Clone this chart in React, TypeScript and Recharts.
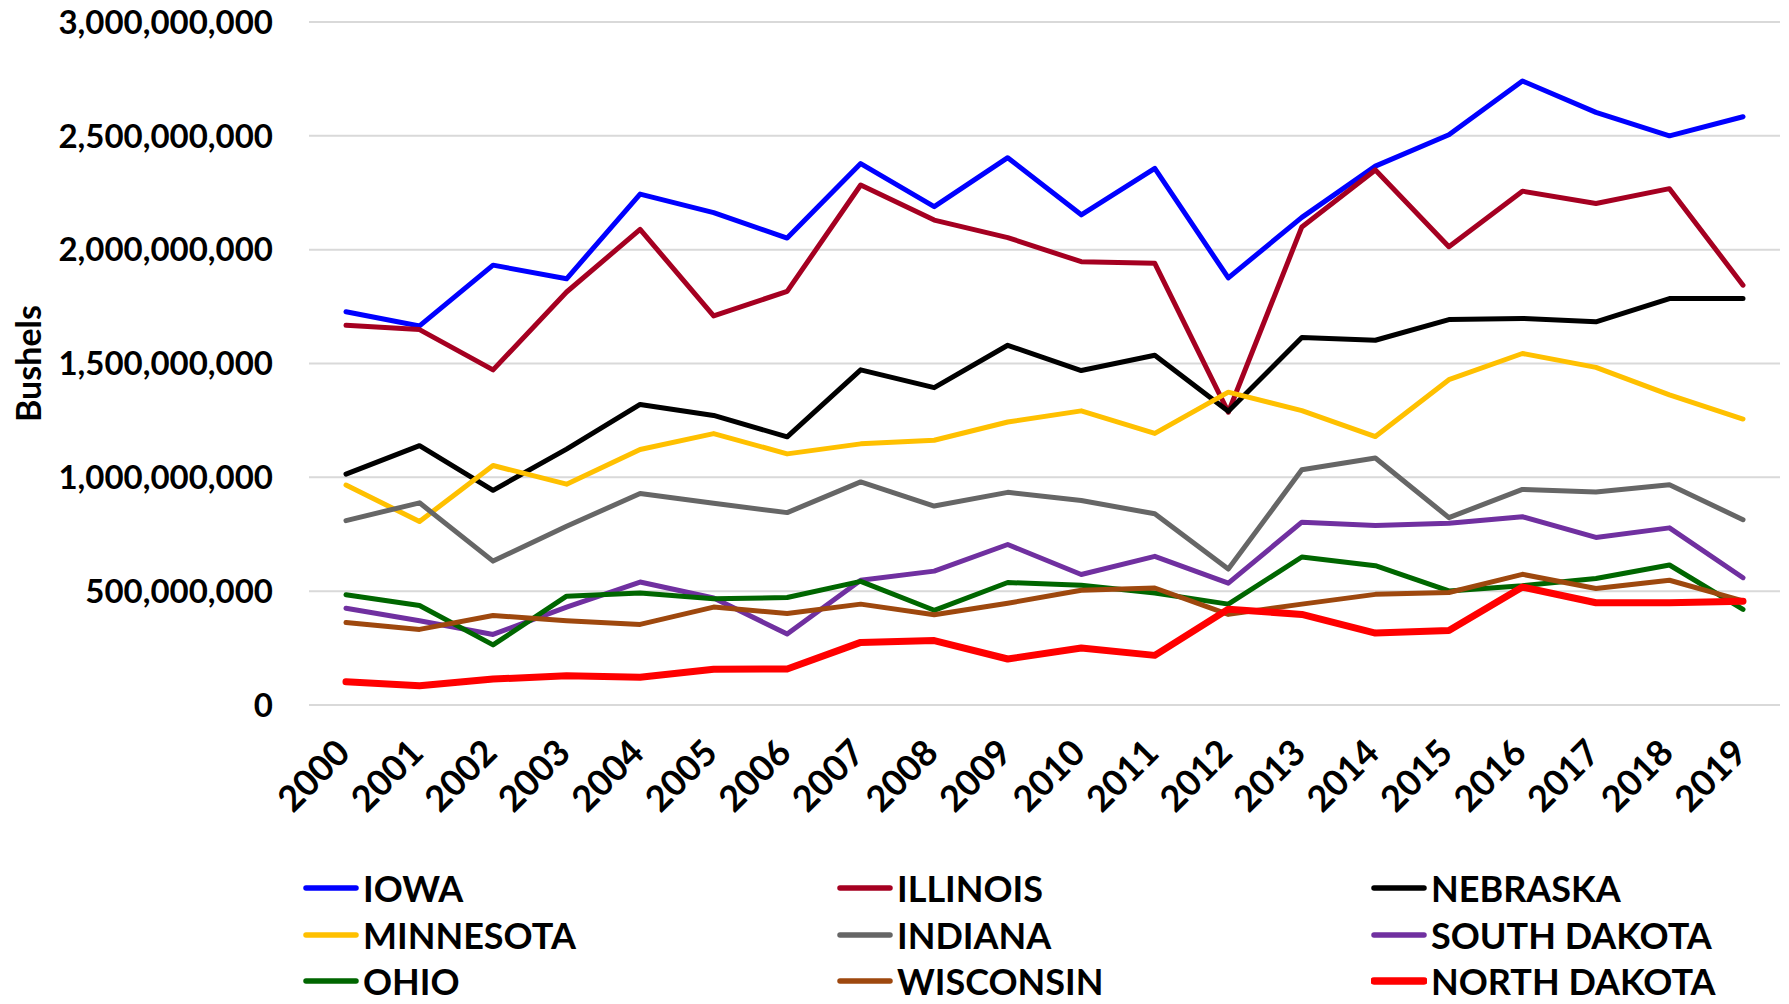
import { LineChart, Line, XAxis, YAxis, CartesianGrid, Legend } from 'recharts'

// corn production by state, millions of bushels
const years = ['2000', '2001', '2002', '2003', '2004', '2005', '2006', '2007', '2008', '2009', '2010', '2011', '2012', '2013', '2014', '2015', '2016', '2017', '2018', '2019']

const iowa = [1727, 1665, 1932, 1872, 2244, 2163, 2051, 2378, 2189, 2404, 2153, 2357, 1876, 2142, 2367, 2505, 2741, 2603, 2500, 2584]
const illinois = [1668, 1649, 1472, 1814, 2089, 1709, 1817, 2284, 2130, 2053, 1947, 1940, 1286, 2100, 2350, 2013, 2257, 2203, 2268, 1844]
const nebraska = [1014, 1139, 943, 1124, 1320, 1272, 1178, 1472, 1394, 1580, 1469, 1536, 1290, 1614, 1602, 1693, 1698, 1683, 1785, 1785]
const minnesota = [966, 806, 1052, 970, 1122, 1192, 1103, 1147, 1163, 1243, 1292, 1193, 1374, 1293, 1179, 1429, 1544, 1483, 1362, 1256]
const indiana = [810, 888, 632, 785, 929, 886, 845, 980, 874, 934, 898, 840, 597, 1033, 1085, 823, 947, 936, 967, 814]
const southDakota = [425, 370, 310, 430, 540, 470, 312, 548, 588, 705, 573, 653, 535, 803, 788, 798, 827, 736, 778, 559]
const ohio = [484, 437, 264, 478, 492, 467, 472, 543, 416, 538, 526, 492, 443, 650, 612, 501, 524, 556, 615, 420]
const wisconsin = [362, 332, 393, 370, 354, 430, 402, 443, 396, 447, 504, 514, 398, 443, 486, 494, 574, 512, 548, 457]
const northDakota = [102, 85, 114, 128, 122, 157, 158, 275, 283, 202, 250, 218, 421, 398, 316, 327, 518, 449, 449, 456]

const yTicks = [0, 500000000, 1000000000, 1500000000, 2000000000, 2500000000, 3000000000]

const series = [
  { name: 'IOWA', values: iowa, color: '#0000FF', width: 5 },
  { name: 'ILLINOIS', values: illinois, color: '#A50021', width: 5 },
  { name: 'NEBRASKA', values: nebraska, color: '#000000', width: 5 },
  { name: 'MINNESOTA', values: minnesota, color: '#FFC000', width: 5 },
  { name: 'INDIANA', values: indiana, color: '#666666', width: 5 },
  { name: 'SOUTH DAKOTA', values: southDakota, color: '#7030A0', width: 5 },
  { name: 'OHIO', values: ohio, color: '#006600', width: 5 },
  { name: 'WISCONSIN', values: wisconsin, color: '#9E480E', width: 5 },
  { name: 'NORTH DAKOTA', values: northDakota, color: '#FF0000', width: 7 },
]

const data = years.map((year, i) => {
  const row: Record<string, string | number> = { year }
  series.forEach((s) => {
    row[s.name] = s.values[i] * 1000000
  })
  return row
})

const FONT = 'Lato, "Open Sans", sans-serif'

const YearTick = ({ x, y, payload }: any) => (
  <text
    x={x + 6}
    y={y + 50}
    transform={`rotate(-45 ${x + 6} ${y + 50})`}
    textAnchor="end"
    fontSize={36}
    fontWeight={700}
    fontFamily={FONT}
    fill="#000"
  >
    {payload.value}
  </text>
)

const BushelsLabel = ({ viewBox }: any) => {
  const cy = viewBox.y + viewBox.height / 2
  return (
    <text
      x={27}
      y={cy}
      transform={`rotate(-90 27 ${cy})`}
      textAnchor="middle"
      dominantBaseline="central"
      fontSize={34}
      fontWeight={700}
      fontFamily={FONT}
      fill="#000"
    >
      Bushels
    </text>
  )
}

// keep the legend in series order (recharts sorts it by name otherwise)
const LegendGrid = ({ payload }: any) => {
  const items = [...(payload || [])].sort(
    (a: any, b: any) => series.findIndex((s) => s.name === a.value) - series.findIndex((s) => s.name === b.value)
  )
  return (
    <div style={{ display: 'grid', gridTemplateColumns: 'repeat(3, 534px)' }}>
      {items.map((entry: any) => {
        const s = series.find((x) => x.name === entry.value)
        return (
          <div key={entry.value} style={{ display: 'flex', alignItems: 'center', height: 46.5 }}>
            <svg width={56} height={10} style={{ marginRight: 4 }}>
              <line x1={3} y1={5} x2={53} y2={5} stroke={entry.color} strokeWidth={s ? s.width + 0.5 : 5.5} strokeLinecap="round" />
            </svg>
            <span style={{ fontFamily: FONT, fontWeight: 700, fontSize: 36, lineHeight: 1, color: '#000' }}>
              {entry.value}
            </span>
          </div>
        )
      })}
    </div>
  )
}

export default function App() {
  // cancel the body margin so the chart fills the whole window
  return (
    <div style={{ margin: -8, width: 1789, height: 1004, overflow: 'hidden' }}>
      <LineChart width={1789} height={1004} data={data} margin={{ top: 22, right: 9, left: 8, bottom: 0 }}>
        <CartesianGrid vertical={false} stroke="#D9D9D9" strokeWidth={2} />
        <XAxis
          dataKey="year"
          interval={0}
          height={299}
          axisLine={false}
          tickLine={false}
          tickSize={0}
          tickMargin={0}
          padding={{ left: 37, right: 37 }}
          tick={<YearTick />}
        />
        <YAxis
          width={301}
          domain={[0, 3000000000]}
          ticks={yTicks}
          axisLine={false}
          tickLine={false}
          tickSize={0}
          tickMargin={36}
          tickFormatter={(v: number) => v.toLocaleString('en-US')}
          tick={{ fontSize: 33, fontWeight: 700, fontFamily: FONT, fill: '#000' }}
          label={BushelsLabel}
        />
        <Legend
          layout="horizontal"
          verticalAlign="middle"
          align="center"
          content={<LegendGrid />}
          wrapperStyle={{ left: 303, top: 865, width: 1602 }}
        />
        {series.map((s) => (
          <Line
            key={s.name}
            type="linear"
            dataKey={s.name}
            stroke={s.color}
            strokeWidth={s.width}
            strokeLinejoin="round"
            strokeLinecap="round"
            dot={false}
            activeDot={false}
            isAnimationActive={false}
          />
        ))}
      </LineChart>
    </div>
  )
}
